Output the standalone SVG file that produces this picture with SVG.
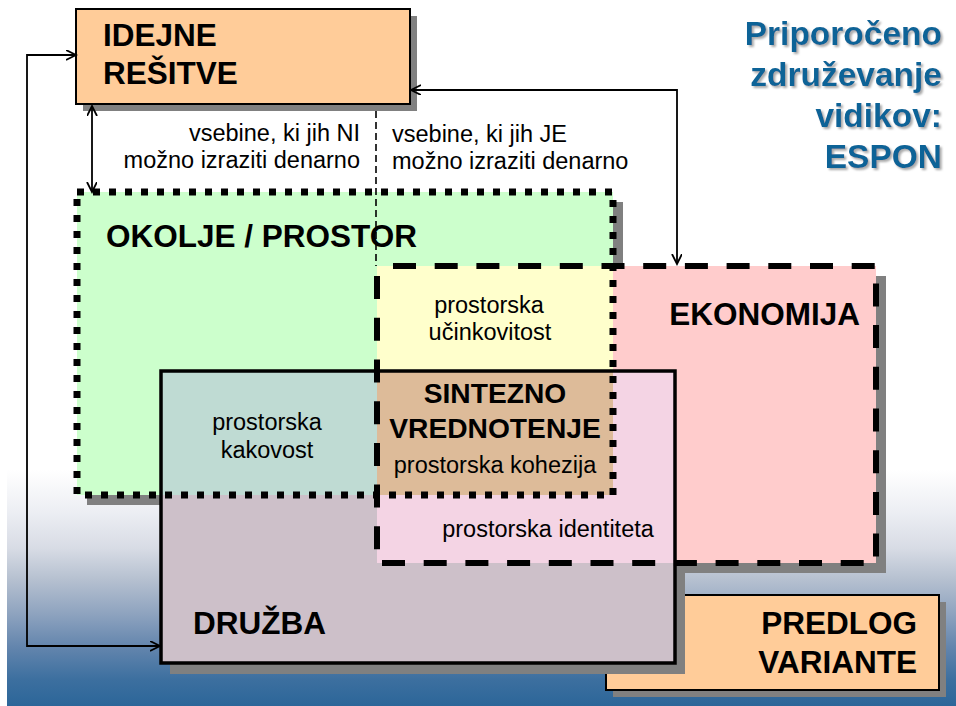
<svg xmlns="http://www.w3.org/2000/svg" width="956" height="706" viewBox="0 0 956 706">
<defs>
<linearGradient id="bg" x1="0" y1="0" x2="0" y2="1">
<stop offset="0" stop-color="#ffffff"/>
<stop offset="0.18" stop-color="#eceef3"/>
<stop offset="0.33" stop-color="#d8dce5"/>
<stop offset="0.47" stop-color="#b4bfcf"/>
<stop offset="0.61" stop-color="#8ea3bf"/>
<stop offset="0.75" stop-color="#6385ad"/>
<stop offset="0.89" stop-color="#3c6f9f"/>
<stop offset="1" stop-color="#2c6699"/>
</linearGradient>
<filter id="tshadow" x="-10%" y="-20%" width="120%" height="150%">
<feDropShadow dx="2" dy="2" stdDeviation="0.8" flood-color="#a0a0a0" flood-opacity="0.9"/>
</filter>
<marker id="arr" markerUnits="userSpaceOnUse" markerWidth="12" markerHeight="12" refX="10" refY="5" orient="auto-start-reverse" viewBox="0 0 12 12">
<path d="M0,0 L10,5 L0,10" fill="none" stroke="#000" stroke-width="1.8"/>
</marker>
<style>
.sh{fill:#808080}
.big{font-family:"Liberation Sans",Arial,sans-serif;font-weight:bold;font-size:31.5px;fill:#000}
.mid{font-family:"Liberation Sans",Arial,sans-serif;font-weight:bold;font-size:28.2px;fill:#000}
.sm{font-family:"Liberation Sans",Arial,sans-serif;font-size:23.5px;fill:#000}
.ttl{font-family:"Liberation Sans",Arial,sans-serif;font-weight:bold;font-size:33.5px;fill:#0e6497}
.box{stroke:#000;stroke-width:2}
.con{fill:none;stroke:#000;stroke-width:1.8}
</style>
</defs>
<rect x="0" y="0" width="956" height="706" fill="#ffffff"/>
<rect x="7" y="470" width="949" height="236" fill="url(#bg)"/>

<g id="title" class="ttl" text-anchor="end" filter="url(#tshadow)">
<text x="942" y="45">Priporočeno</text>
<text x="942" y="86">združevanje</text>
<text x="942" y="127">vidikov:</text>
<text x="942" y="168">ESPON</text>
</g>

<g id="predlog">
<rect class="sh" x="613" y="602" width="333" height="95"/>
<rect class="box" x="606" y="595" width="333" height="95" fill="#ffcc99"/>
<text class="big" x="917" y="634" text-anchor="end">PREDLOG</text>
<text class="big" x="917" y="673" text-anchor="end">VARIANTE</text>
</g>

<g id="idejne">
<rect class="sh" x="83" y="16" width="334" height="95"/>
<rect class="box" x="76" y="9" width="334" height="95" fill="#ffcc99"/>
<text class="big" x="103" y="46">IDEJNE</text>
<text class="big" x="103" y="84">REŠITVE</text>
</g>

<g id="shadows">
<rect class="sh" x="87" y="202" width="536" height="303"/>
<rect class="sh" x="387" y="276" width="499" height="297"/>
<rect class="sh" x="170" y="381" width="515" height="293"/>
</g>

<g id="fills">
<rect x="77" y="192" width="536" height="303" fill="#ccffcc"/>
<rect x="377" y="266" width="499" height="297" fill="#ffcccc"/>
<rect x="161" y="371" width="514" height="292" fill="#cdc0c9"/>
<rect x="377" y="266" width="236" height="105" fill="#ffffcc"/>
<rect x="161" y="371" width="216" height="124" fill="#bfdbd3"/>
<rect x="377" y="371" width="236" height="124" fill="#ddbb99"/>
<rect x="377" y="495" width="298" height="68" fill="#f4d4e4"/>
<rect x="613" y="371" width="62" height="124" fill="#f4d4e4"/>
</g>

<g id="druzba">
<rect x="161" y="371" width="514" height="292" fill="none" stroke="#000" stroke-width="3.5"/>
<text class="big" x="193" y="634">DRUŽBA</text>
</g>

<g id="okolje">
<rect x="77" y="192" width="536" height="303" fill="none" stroke="#000" stroke-width="7" stroke-dasharray="7 9"/>
<text class="big" x="106" y="247">OKOLJE / PROSTOR</text>
</g>

<g id="ekonomija">
<rect x="377" y="266" width="499" height="297" fill="none" stroke="#000" stroke-width="6" stroke-dasharray="23 18.7" stroke-dashoffset="25.7"/>
<text class="big" x="860" y="325" text-anchor="end">EKONOMIJA</text>
</g>

<g id="intersections">
<g class="sm" text-anchor="middle">
<text x="489" y="313">prostorska</text>
<text x="490" y="340">učinkovitost</text>
<text x="267" y="430">prostorska</text>
<text x="267" y="458">kakovost</text>
<text x="495" y="473">prostorska kohezija</text>
<text x="548" y="537">prostorska identiteta</text>
</g>
<g class="mid" text-anchor="middle">
<text x="495" y="403">SINTEZNO</text>
<text x="495" y="438">VREDNOTENJE</text>
</g>
</g>

<g id="labels" class="sm">
<text x="360" y="141" text-anchor="end">vsebine, ki jih NI</text>
<text x="360" y="168" text-anchor="end">možno izraziti denarno</text>
<text x="392" y="142">vsebine, ki jih JE</text>
<text x="392" y="169">možno izraziti denarno</text>
</g>

<g id="connectors">
<path class="con" d="M76,55 H27 V646 H160" marker-start="url(#arr)" marker-end="url(#arr)"/>
<path class="con" d="M92,106 V192" marker-start="url(#arr)" marker-end="url(#arr)"/>
<path class="con" d="M411,90 H677 V264" marker-start="url(#arr)" marker-end="url(#arr)"/>
<path d="M376,111 V266" fill="none" stroke="#000" stroke-width="1.6" stroke-dasharray="7 4"/>
</g>
</svg>
